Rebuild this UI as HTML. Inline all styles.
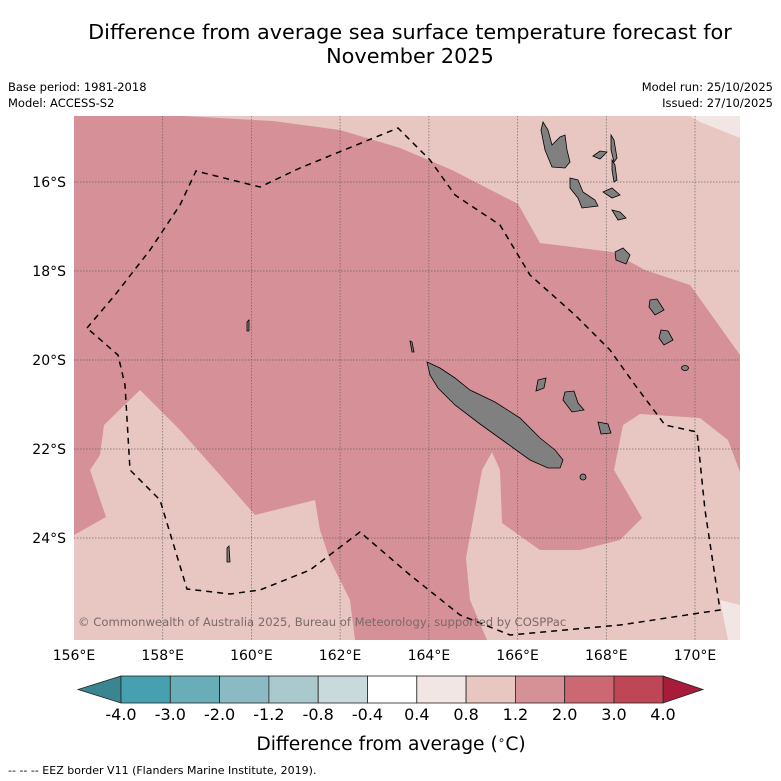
<!DOCTYPE html>
<html><head><meta charset="utf-8"><style>
body{margin:0;background:#fff;width:781px;height:781px;overflow:hidden;font-family:"DejaVu Sans","Liberation Sans",sans-serif}
svg{position:absolute;left:0;top:0;font-family:"DejaVu Sans","Liberation Sans",sans-serif}
</style></head><body>
<svg width="781" height="781" viewBox="0 0 781 781">
<text x="410" y="39" font-size="20.8" text-anchor="middle">Difference from average sea surface temperature forecast for</text>
<text x="410" y="63" font-size="20.8" text-anchor="middle">November 2025</text>
<text x="8" y="91" font-size="11.5">Base period: 1981-2018</text>
<text x="8" y="107" font-size="11.5">Model: ACCESS-S2</text>
<text x="773" y="91" font-size="11.5" text-anchor="end">Model run: 25/10/2025</text>
<text x="773" y="107" font-size="11.5" text-anchor="end">Issued: 27/10/2025</text>
<defs><clipPath id="mc"><rect x="74" y="116" width="666" height="524"/></clipPath></defs>
<g clip-path="url(#mc)">
<rect x="74" y="116" width="666" height="524" fill="#e8c6c2"/>
<polygon points="690,116 740,116 740,138 700,122" fill="#f2e6e4"/>
<polygon points="720,600 740,605 740,640 728,640" fill="#f2e6e4"/>
<polygon fill="#d69097" points="74,116 183,116 273,121 340,130 400,148 452,170 518,204 540,243 612,252 645,270 690,285 740,355 740,472 728,440 700,418 640,414 623,425 614,470 642,518 620,540 580,550 540,550 502,523 500,470 492,452 482,470 466,558 470,600 487,640 355,640 350,600 330,560 320,530 315,500 255,515 220,475 180,430 140,390 104,425 100,455 90,470 106,517 74,535"/>
<g stroke="#555" stroke-width="0.7" stroke-dasharray="1.5,1.5" opacity="0.8">
<line x1="162.7" y1="116" x2="162.7" y2="640"/><line x1="251.4" y1="116" x2="251.4" y2="640"/><line x1="340.1" y1="116" x2="340.1" y2="640"/><line x1="428.9" y1="116" x2="428.9" y2="640"/><line x1="517.6" y1="116" x2="517.6" y2="640"/><line x1="606.3" y1="116" x2="606.3" y2="640"/><line x1="695" y1="116" x2="695" y2="640"/>
<line x1="74" y1="182" x2="740" y2="182"/><line x1="74" y1="271" x2="740" y2="271"/><line x1="74" y1="360" x2="740" y2="360"/><line x1="74" y1="449" x2="740" y2="449"/><line x1="74" y1="538" x2="740" y2="538"/>
</g>
<g fill="#808080" stroke="#000" stroke-width="0.8">
<polygon points="427,362 440,368 455,378 470,390 495,402 520,418 540,438 555,450 563,460 560,468 548,468 530,460 505,442 480,424 455,405 438,388 430,375"/>
<polygon points="543,122 548,130 552,145 560,137 565,135 567,150 570,162 565,168 552,167 545,150 541,130"/>
<polygon points="570,178 578,180 583,192 595,200 598,206 582,208 578,198 570,188"/>
<polygon points="611,135 614,140 617,158 614,162 611,150"/>
<polygon points="612,160 615,165 617,180 614,182 612,170"/>
<polygon points="593,156 600,151 607,152 600,159"/>
<polygon points="603,192 612,188 620,195 612,198"/>
<polygon points="612,210 620,212 626,218 618,220"/>
<polygon points="615,252 623,248 630,255 626,264 616,260"/>
<polygon points="650,300 657,299 664,310 655,315 649,307"/>
<polygon points="661,330 668,331 673,340 664,345 659,338"/>
<ellipse cx="685" cy="368" rx="3.5" ry="2.5"/>
<polygon points="538,380 546,378 544,388 536,391"/>
<polygon points="565,392 574,391 578,403 584,410 572,412 563,400"/>
<polygon points="598,422 608,424 611,433 601,434"/>
<ellipse cx="583" cy="477" rx="3" ry="3"/>
<polygon points="247,322 249,320 249,331 247,331"/>
<polygon points="410,341 412,342 414,352 412,352"/>
<polygon points="227,548 229,546 230,562 227,562"/>
</g>
<polyline fill="none" stroke="#000" stroke-width="1.5" stroke-dasharray="6,5" points="87,328 115,295 150,250 180,205 196,171 260,187 300,168 398,128 430,160 455,195 500,225 530,275 575,315 610,350 635,385 665,425 697,432 705,510 720,610 620,625 510,635 460,615 410,575 360,532 310,570 260,590 230,594 187,589 160,500 130,470 125,385 118,355 87,328"/>
<text x="78" y="626" font-size="11.6" fill="#7a6a6a">© Commonwealth of Australia 2025, Bureau of Meteorology, supported by COSPPac</text>
</g>
<g font-size="14">
<g text-anchor="end"><text x="66" y="187">16°S</text><text x="66" y="276">18°S</text><text x="66" y="365">20°S</text><text x="66" y="454">22°S</text><text x="66" y="543">24°S</text></g>
<g text-anchor="middle"><text x="74" y="660">156°E</text><text x="162.7" y="660">158°E</text><text x="251.4" y="660">160°E</text><text x="340.1" y="660">162°E</text><text x="428.9" y="660">164°E</text><text x="517.6" y="660">166°E</text><text x="606.3" y="660">168°E</text><text x="695" y="660">170°E</text></g>
</g>
<g stroke="#222" stroke-width="0.8">
<polygon points="121,676 78,689.5 121,703" fill="#3a8592"/>
<polygon points="663,676 703,689.5 663,703" fill="#a81c3a"/>
<rect x="121" y="676" width="49.3" height="27" fill="#46a0b0"/>
<rect x="170.3" y="676" width="49.3" height="27" fill="#68adb8"/>
<rect x="219.6" y="676" width="49.3" height="27" fill="#8bbac4"/>
<rect x="268.9" y="676" width="49.3" height="27" fill="#a9c9cc"/>
<rect x="318.2" y="676" width="49.3" height="27" fill="#cadadc"/>
<rect x="367.5" y="676" width="49.3" height="27" fill="#ffffff"/>
<rect x="416.8" y="676" width="49.3" height="27" fill="#f2e6e4"/>
<rect x="466.1" y="676" width="49.3" height="27" fill="#e8c6c2"/>
<rect x="515.4" y="676" width="49.3" height="27" fill="#d69097"/>
<rect x="564.7" y="676" width="49.3" height="27" fill="#cb6873"/>
<rect x="614" y="676" width="49" height="27" fill="#bf4656"/>
</g>
<g font-size="16" text-anchor="middle">
<text x="121" y="720">-4.0</text><text x="170.3" y="720">-3.0</text><text x="219.6" y="720">-2.0</text><text x="268.9" y="720">-1.2</text><text x="318.2" y="720">-0.8</text><text x="367.5" y="720">-0.4</text><text x="416.8" y="720">0.4</text><text x="466.1" y="720">0.8</text><text x="515.4" y="720">1.2</text><text x="564.7" y="720">2.0</text><text x="614" y="720">3.0</text><text x="663" y="720">4.0</text>
</g>
<text x="391" y="750" font-size="18.7" text-anchor="middle">Difference from average (<tspan font-size="12" dy="-6">∘</tspan><tspan dy="6">C)</tspan></text>
<text x="8" y="774" font-size="11">-- -- -- EEZ border V11 (Flanders Marine Institute, 2019).</text>
</svg>
</body></html>
